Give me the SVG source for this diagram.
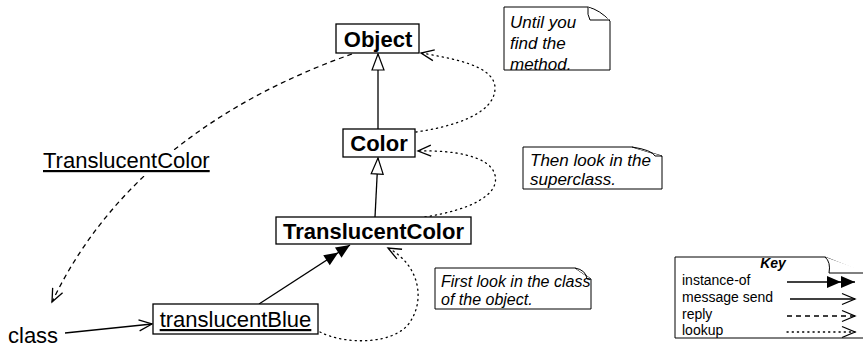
<svg xmlns="http://www.w3.org/2000/svg" width="863" height="348" viewBox="0 0 863 348">
<style>
text{font-family:"Liberation Sans",Arial,sans-serif;fill:#000}
.box{fill:#fff;stroke:#000;stroke-width:1.3}
.b{font-size:22px;font-weight:bold;text-anchor:middle}
.r{font-size:22px}
.u{text-decoration:underline}
.note{font-size:17px;font-style:italic}
.note16{font-size:16px;font-style:italic}
.key{font-size:14px}
.ln{fill:none;stroke:#000;stroke-width:1.3}
.dash{stroke-dasharray:5,4}
.dot{stroke-dasharray:1.2,4;stroke-linecap:round}
.np{fill:#fff;stroke:#000;stroke-width:1}
</style>
<defs>
<marker id="open" markerUnits="userSpaceOnUse" markerWidth="14" markerHeight="12" refX="13" refY="5.5" orient="auto" overflow="visible">
<path d="M0,0 L13,5.5 L0,11" fill="none" stroke="#000" stroke-width="1.3"/>
</marker>
<marker id="dbl" markerUnits="userSpaceOnUse" markerWidth="30" markerHeight="14" refX="28" refY="6" orient="auto" overflow="visible">
<path d="M0,0 L14,6 L0,12 Z M14,0 L28,6 L14,12 Z" fill="#000" stroke="none"/>
</marker>
<marker id="gen" markerUnits="userSpaceOnUse" markerWidth="18" markerHeight="14" refX="16" refY="6" orient="auto" overflow="visible">
<path d="M0,0 L16,6 L0,12 Z" fill="#fff" stroke="#000" stroke-width="1.2"/>
</marker>
</defs>

<g id="connectors">
<line class="ln" x1="378" y1="129" x2="378" y2="54" marker-end="url(#gen)"/>
<line class="ln" x1="375" y1="217" x2="378" y2="158" marker-end="url(#gen)"/>
<line class="ln" x1="259" y1="304" x2="350" y2="245" marker-end="url(#dbl)"/>
<line class="ln" x1="65" y1="333" x2="152" y2="324" marker-end="url(#open)"/>
<path class="ln dash" d="M352,54 C250,90 120,160 52,302" marker-end="url(#open)"/>
<path class="ln dot" d="M320,332 C345,345 395,345 410,322 C425,300 420,265 388,248" marker-end="url(#open)"/>
<path class="ln dot" d="M425,217 C470,210 500,195 495,175 C490,155 450,150 418,151" marker-end="url(#open)"/>
<path class="ln dot" d="M416,132 C450,127 495,115 495,88 C495,65 450,58 421,53" marker-end="url(#open)"/>
</g>

<g id="label-translucentcolor">
<rect x="42" y="150" width="170" height="26" fill="#fff"/>
<text class="r u" x="43" y="168">TranslucentColor</text>
</g>

<g id="node-object">
<rect class="box" x="336" y="24" width="83" height="29"/>
<text class="b" x="378" y="47">Object</text>
</g>
<g id="node-color">
<rect class="box" x="343" y="129" width="72" height="28"/>
<text class="b" x="379" y="151">Color</text>
</g>
<g id="node-translucentcolor">
<rect class="box" x="276" y="217" width="195" height="27"/>
<text class="b" x="373.5" y="239">TranslucentColor</text>
</g>
<g id="node-translucentblue">
<rect class="box" x="153" y="304" width="165" height="30"/>
<text class="r u" x="235.5" y="327" text-anchor="middle">translucentBlue</text>
</g>
<g id="node-class">
<text class="r" x="8" y="343">class</text>
</g>

<g id="note-until">
<path class="np" d="M504,7 H588 Q600,10 610,21 V70 H504 Z"/>
<path class="np" fill="none" d="M588,7 Q587,15 590,20 H610"/>
<text class="note" x="510" y="28">Until you</text>
<text class="note" x="510" y="49">find the</text>
<text class="note" x="510" y="69.5">method.</text>
</g>
<g id="note-then">
<path class="np" d="M523,147 H632 L662,156 V189 H523 Z"/>
<path class="np" fill="none" d="M632,147 Q652,150 655,156 H662"/>
<text class="note" x="530" y="165.5">Then look in the</text>
<text class="note" x="530" y="185">superclass.</text>
</g>
<g id="note-first">
<path class="np" d="M435,268 H575 L591,279 V309 H435 Z"/>
<path class="np" fill="none" d="M575,268 Q586,270 587,279 H591"/>
<text class="note16" x="441" y="287">First look in the class</text>
<text class="note16" x="441" y="305">of the object.</text>
</g>

<g id="key">
<path class="np" d="M675,257 H825 L870,275 V338 H675 Z"/>
<path class="np" fill="none" d="M825,257 Q831,262 829,273 H870"/>
<text class="key" x="773" y="268" text-anchor="middle" font-weight="bold" font-style="italic">Key</text>
<text class="key" x="682" y="285">instance-of</text>
<text class="key" x="682" y="302">message send</text>
<text class="key" x="682" y="319">reply</text>
<text class="key" x="682" y="335">lookup</text>
<line class="ln" x1="787" y1="282" x2="855" y2="282" stroke-width="1.2" marker-end="url(#dbl)"/>
<line class="ln" x1="790" y1="299" x2="855" y2="299" stroke-width="1.2" marker-end="url(#open)"/>
<line class="ln dash" x1="787" y1="316" x2="855" y2="316" stroke-width="1.2" marker-end="url(#open)"/>
<line class="ln dot" x1="787" y1="332" x2="855" y2="332" stroke-width="1.2" marker-end="url(#open)"/>
</g>
</svg>
